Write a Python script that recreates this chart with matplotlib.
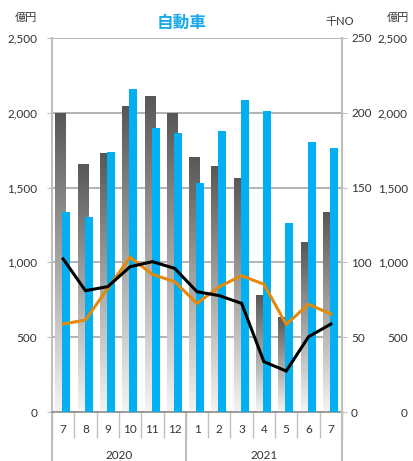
import numpy as np
import matplotlib
matplotlib.use('Agg')
import matplotlib.pyplot as plt
import matplotlib.transforms as mtransforms
from matplotlib.colors import LinearSegmentedColormap

plt.rcParams['font.family'] = ['Lato', 'Noto Sans CJK JP', 'DejaVu Sans']

# データ
months = ['7', '8', '9', '10', '11', '12', '1', '2', '3', '4', '5', '6', '7']
years = ['2020', '2021']
year_spans = [(0, 5), (6, 12)]
gray_vals = [2000, 1655, 1730, 2045, 2115, 2000, 1705, 1645, 1565, 780, 637, 1135, 1337]   # 億円
blue_vals = [1337, 1303, 1738, 2160, 1898, 1865, 1531, 1878, 2086, 2012, 1263, 1805, 1765]  # 億円
black_line = [102.3, 81.1, 83.8, 97.1, 100.5, 96.0, 80.4, 77.8, 72.6, 33.6, 27.4, 50.3, 58.8]  # 千NO
orange_line = [58.8, 61.5, 82.7, 103.4, 92.0, 87.1, 72.6, 83.8, 91.1, 85.4, 58.6, 72.0, 65.5]  # 千NO

blue = '#00b0f0'
orange = '#e3890c'
axis_gray = '#bfbfbf'
grid_gray = '#a6a6a6'
fs = 8.5

fig = plt.figure(figsize=(4.13, 4.61), dpi=100)
ax = fig.add_axes([52 / 413, 49 / 461, 290 / 413, 374 / 461])
x = np.arange(len(months))

# グラデーションの棒
cmap = LinearSegmentedColormap.from_list('g', ['#f4f4f4', '#575757'])
grad = np.linspace(0, 1, 256).reshape(-1, 1)
bars = ax.bar(x - 0.128, gray_vals, width=0.45, color='none', edgecolor='none', zorder=2)
for b in bars:
    bx, by = b.get_x(), b.get_y()
    w, h = b.get_width(), b.get_height()
    im = ax.imshow(grad, extent=[bx, bx + w, by, by + h], origin='lower',
                   cmap=cmap, aspect='auto', zorder=2)
    im.set_clip_path(b)

ax.bar(x + 0.141, blue_vals, width=0.36, color=blue, zorder=3)

ax.set_xlim(-0.5, len(months) - 0.5)
ax.set_ylim(0, 2500)
ax.set_yticks(np.arange(0, 2501, 500))
ax.set_yticklabels([f'{v:,}' for v in range(0, 2501, 500)])
ax.yaxis.grid(True, color=grid_gray, lw=1.2, zorder=0)
ax.set_axisbelow(True)
ax.tick_params(axis='y', length=3.5, color=axis_gray, pad=7, labelsize=fs, labelcolor='#333333')
ax.set_xticks([])
ax.set_xticks(np.arange(-0.5, len(months), 1), minor=True)
ax.tick_params(axis='x', which='minor', length=19, color=axis_gray, width=1)
ax.spines['top'].set_visible(False)
ax.spines['left'].set_color(axis_gray)
ax.spines['left'].set_linewidth(1.5)
ax.spines['right'].set_color(axis_gray)
ax.spines['right'].set_linewidth(1.5)
ax.spines['bottom'].set_color('#8c8c8c')
ax.spines['bottom'].set_linewidth(1.2)

# 右軸 千NO
ax2 = ax.twinx()
ax2.set_ylim(0, 250)
ax2.set_yticks(np.arange(0, 251, 50))
ax2.tick_params(axis='y', length=3.5, color=axis_gray, pad=3, labelsize=fs, labelcolor='#333333')
for s in ['top', 'left', 'bottom']:
    ax2.spines[s].set_visible(False)
ax2.spines['right'].set_color(axis_gray)
ax2.spines['right'].set_linewidth(1.5)
ax2.plot(x, black_line, color='black', lw=2.2, zorder=5, solid_joinstyle='miter')
ax2.plot(x, orange_line, color=orange, lw=2.2, zorder=4, solid_joinstyle='miter')

# 右側の億円軸
ax3 = ax.twinx()
ax3.set_ylim(0, 2500)
ax3.set_yticks(np.arange(0, 2501, 500))
ax3.set_yticklabels([f'{v:,}' for v in range(0, 2501, 500)])
ax3.tick_params(axis='y', length=0, pad=47.5, labelsize=fs, labelcolor='#333333')
for lbl in ax3.get_yticklabels():
    lbl.set_ha('right')
for s in ax3.spines.values():
    s.set_visible(False)

# x軸ラベル
trans = mtransforms.blended_transform_factory(ax.transData, ax.transAxes)
for i, m in enumerate(months):
    ax.text(i, -0.048, m, transform=trans, ha='center', va='center', fontsize=fs, color='#333333')
for yr, (a, b) in zip(years, year_spans):
    ax.text((a + b) / 2, -0.115, yr, transform=trans, ha='center', va='center', fontsize=fs, color='#333333')
for xv in [-0.5, 5.5, len(months) - 0.5]:
    ax.plot([xv, xv], [0, -0.135], transform=trans, color=axis_gray, lw=1.5, clip_on=False)

# タイトルと単位
fig.text(182 / 413, 1 - 23 / 461, '自動車', color='#1aa9e8', fontsize=12, fontweight='bold',
         ha='center', va='center')
fig.text(26 / 413, 1 - 17 / 461, '億円', fontsize=8, ha='center', va='center', color='#333333')
fig.text(340 / 413, 1 - 22 / 461, '千NO', fontsize=8, ha='center', va='center', color='#333333')
fig.text(398 / 413, 1 - 17 / 461, '億円', fontsize=8, ha='center', va='center', color='#333333')

fig.savefig('out.png', dpi=100)
